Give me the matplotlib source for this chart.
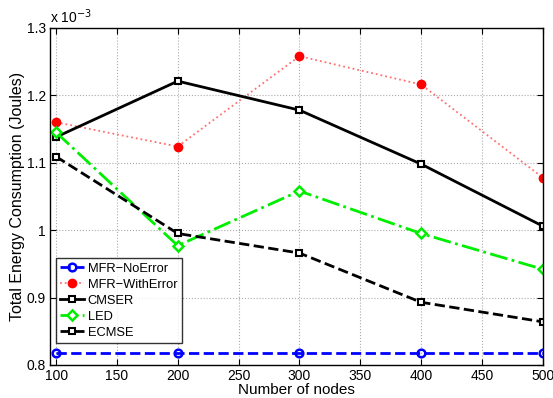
import matplotlib
matplotlib.use('Agg')
import matplotlib.pyplot as plt
from matplotlib.ticker import FuncFormatter

plt.rcParams['font.family'] = ['Liberation Sans', 'DejaVu Sans']

nodes = [100, 200, 300, 400, 500]
mfr_noerror = [0.818e-3, 0.818e-3, 0.818e-3, 0.818e-3, 0.818e-3]
mfr_witherror = [1.160e-3, 1.124e-3, 1.258e-3, 1.216e-3, 1.078e-3]
cmser = [1.138e-3, 1.221e-3, 1.178e-3, 1.098e-3, 1.006e-3]
led = [1.145e-3, 0.977e-3, 1.058e-3, 0.995e-3, 0.942e-3]
ecmse = [1.109e-3, 0.995e-3, 0.966e-3, 0.893e-3, 0.864e-3]

fig = plt.figure(figsize=(5.53, 3.98), dpi=100, facecolor='white')
ax = fig.add_axes([0.0904, 0.083, 0.891, 0.847])

ax.plot(nodes, mfr_noerror, color='blue', ls='--', lw=2, marker='o', ms=5.5,
        mfc='none', mec='blue', mew=1.8, label='MFR\u2212NoError')
ax.plot(nodes, mfr_witherror, color='#ff7070', ls=':', lw=1.3, marker='o', ms=6,
        mfc='red', mec='red', label='MFR\u2212WithError')
ax.plot(nodes, cmser, color='black', ls='-', lw=2, marker='s', ms=5,
        mfc='white', mec='black', mew=1.5, label='CMSER')
ax.plot(nodes, led, color='#00ee00', ls='-.', lw=2, marker='D', ms=5.5,
        mfc='white', mec='#00ee00', mew=1.8, label='LED')
ax.plot(nodes, ecmse, color='black', ls='--', lw=2, marker='s', ms=5,
        mfc='white', mec='black', mew=1.5, label='ECMSE')

ax.set_xlim(95, 500)
ax.set_ylim(0.8e-3, 1.3e-3)
ax.set_xticks([100, 150, 200, 250, 300, 350, 400, 450, 500])
ax.set_yticks([0.8e-3, 0.9e-3, 1.0e-3, 1.1e-3, 1.2e-3, 1.3e-3])
ax.yaxis.set_major_formatter(FuncFormatter(lambda v, p: '%g' % round(v * 1e3, 3)))
ax.tick_params(direction='in', top=True, right=True, labelsize=10, length=4, pad=3)
ax.grid(True, ls=':', color='#aaaaaa', lw=0.8)
for s in ax.spines.values():
    s.set_linewidth(1.0)

ax.text(0.0, 1.005, 'x 10$^{-3}$', transform=ax.transAxes, fontsize=10,
        ha='left', va='bottom')

ax.set_xlabel('Number of nodes', fontsize=11, labelpad=0)
ax.set_ylabel('Total Energy Consumption (Joules)', fontsize=11.5, labelpad=1)

leg = ax.legend(loc='lower left', bbox_to_anchor=(0.012, 0.065), fontsize=9.3,
                frameon=True, fancybox=False, edgecolor='black',
                borderpad=0.35, labelspacing=0.3, handlelength=1.8,
                handletextpad=0.3, borderaxespad=0)
leg.get_frame().set_linewidth(1.0)

fig.savefig('out.png', dpi=100)
